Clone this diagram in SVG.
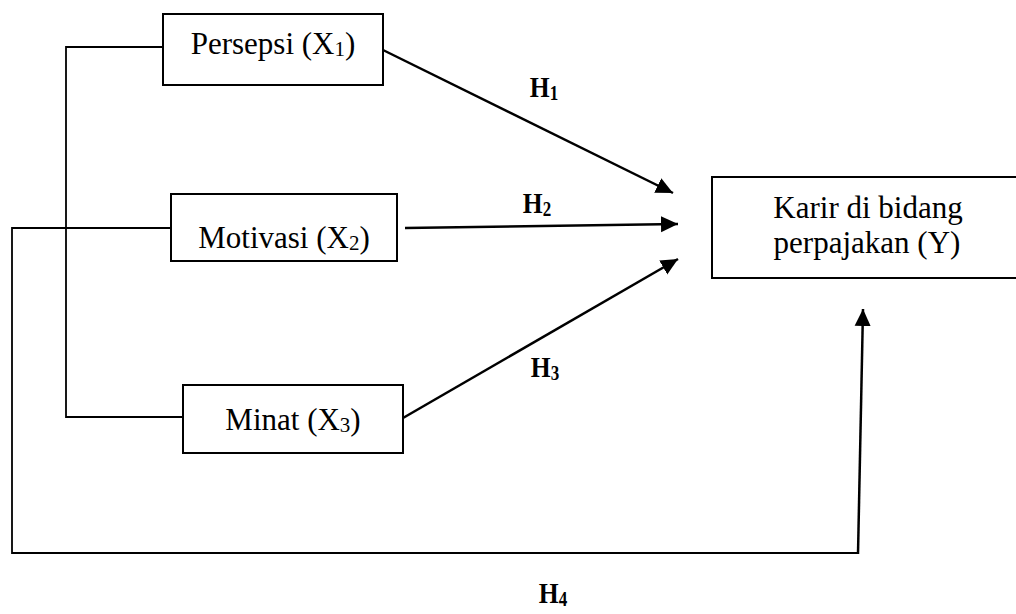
<svg xmlns="http://www.w3.org/2000/svg" width="1016" height="614" viewBox="0 0 1016 614">
  <style>
    .box { fill: #ffffff; stroke: #000000; stroke-width: 2; }
    .lbl { font-family: "Liberation Serif", "Times New Roman", serif; font-size: 31px; fill: #000000; text-anchor: middle; }
    .sub { font-size: 21px; }
    .hyp { font-family: "Liberation Serif", "Times New Roman", serif; font-size: 30px; font-weight: bold; fill: #000000; text-anchor: middle; }
    .hsub { font-size: 20px; }
    .line { fill: none; stroke: #000000; stroke-width: 1.8; }
    .arrow { fill: none; stroke: #000000; stroke-width: 2.5; marker-end: url(#ah); }
  </style>
  <defs>
    <marker id="ah" markerUnits="userSpaceOnUse" markerWidth="18" markerHeight="18" viewBox="0 0 18 18" refX="17" refY="9" orient="auto">
      <path d="M0,1 L17,9 L0,17 Z" fill="#000000"/>
    </marker>
  </defs>

  <g id="connectors">
    <polyline class="line" points="163,47 66,47 66,417 183,417"/>
    <polyline class="line" points="171,228 12,228 12,553 858,553"/>
    <line class="arrow" x1="858" y1="554" x2="863" y2="309"/>
    <line class="arrow" x1="383" y1="50" x2="673" y2="193"/>
    <line class="arrow" x1="405" y1="228" x2="678" y2="224"/>
    <line class="arrow" x1="403" y1="418" x2="678" y2="259"/>
  </g>

  <g id="persepsi">
    <rect class="box" x="163" y="14" width="220" height="71"/>
    <text class="lbl" x="273" y="54">Persepsi (X<tspan class="sub" dy="2">1</tspan><tspan dy="-2">)</tspan></text>
  </g>

  <g id="motivasi">
    <rect class="box" x="171" y="194" width="226" height="67"/>
    <text class="lbl" x="284" y="248">Motivasi (X<tspan class="sub" dy="2">2</tspan><tspan dy="-2">)</tspan></text>
  </g>

  <g id="minat">
    <rect class="box" x="183" y="385" width="220" height="68"/>
    <text class="lbl" x="293" y="430">Minat (X<tspan class="sub" dy="2">3</tspan><tspan dy="-2">)</tspan></text>
  </g>

  <g id="karir">
    <rect class="box" x="712" y="177" width="312" height="101"/>
    <text class="lbl" x="868" y="218">Karir di bidang</text>
    <text class="lbl" x="867" y="253">perpajakan (Y)</text>
  </g>

  <g id="labels">
    <g transform="translate(544,97) scale(0.85,1)"><text class="hyp" x="0" y="0">H<tspan class="hsub" dy="3">1</tspan></text></g>
    <g transform="translate(537,213) scale(0.85,1)"><text class="hyp" x="0" y="0">H<tspan class="hsub" dy="3">2</tspan></text></g>
    <g transform="translate(545,377) scale(0.85,1)"><text class="hyp" x="0" y="0">H<tspan class="hsub" dy="3">3</tspan></text></g>
    <g transform="translate(553,603) scale(0.85,1)"><text class="hyp" x="0" y="0">H<tspan class="hsub" dy="3">4</tspan></text></g>
  </g>
</svg>
